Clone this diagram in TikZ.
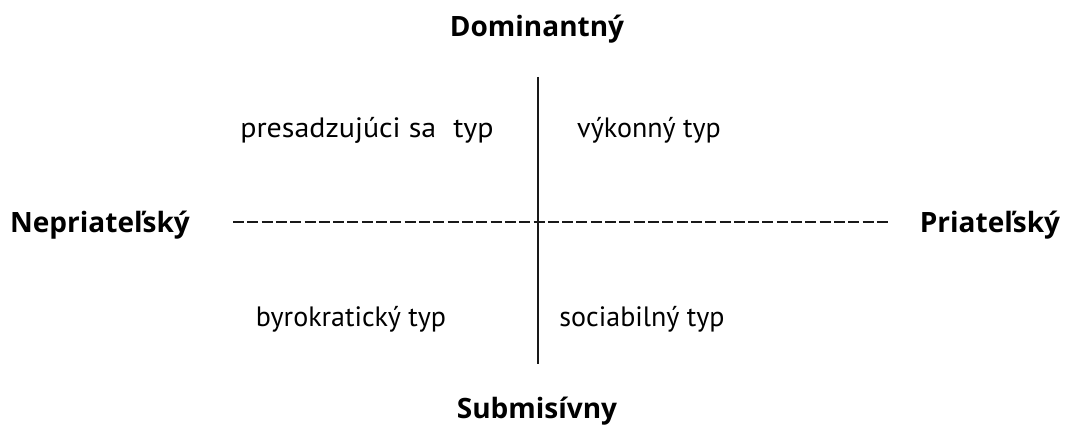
\documentclass[tikz,border=0pt]{standalone}
\usepackage{fontspec}
\usepackage{graphicx}
\setmainfont{PT Sans}
\newfontfamily\polefont{Open Sans}[BoldFont={Open Sans Bold}]
\begin{document}
\begin{tikzpicture}[x=1pt,y=-1pt,
  lbl/.style={font=\fontsize{28}{32}\selectfont, inner sep=0pt, anchor=base},
  pole/.style={font=\polefont\bfseries\fontsize{28}{32}\selectfont, inner sep=0pt, anchor=base},
  axis/.style={line width=2.2pt, black!90},
  dashaxis/.style={line width=2pt, black!90, dash pattern=on 11pt off 3.31pt}]
\useasboundingbox (0,0) rectangle (1073,425);
\node[pole] (dom) at (537,37) {Dominantný};
\node[pole] (sub) at (537,418) {Submisívny};
\node[pole] (nep) at (100,232) {Nepriateľský};
\node[pole] (pri) at (990,232) {Priateľský};
\node[lbl] (pres) at (367,138) {\scalebox{1.07}[1]{presadzujúci sa\hspace{16pt}typ}};
\node[lbl] (vyk) at (649,138) {výkonný typ};
\node[lbl] (byr) at (351,326) {byrokratický typ};
\node[lbl] (soc) at (642,326) {sociabilný typ};
\coordinate (top) at (538,77);
\coordinate (bot) at (538,364);
\coordinate (left) at (233,222);
\coordinate (right) at (888,222);
\draw[axis] (top) -- (bot);
\draw[dashaxis] (left) -- (right);
\end{tikzpicture}
\end{document}
